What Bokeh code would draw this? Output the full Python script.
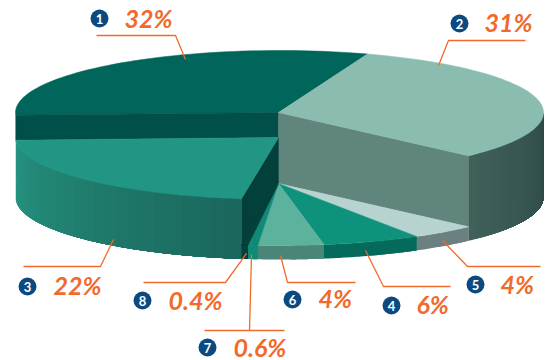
import numpy as np
from bokeh.core.properties import value
from bokeh.embed import file_html
from bokeh.models import ColumnDataSource
from bokeh.plotting import figure
from bokeh.resources import INLINE

# Shares per slice, in clockwise order starting from the top-left slice
slice_ids = [1, 2, 5, 4, 6, 7, 8, 3]
shares = [32, 31, 4, 6, 4, 0.6, 0.4, 22]
share_labels = ["32%", "31%", "4%", "6%", "4%", "0.6%", "0.4%", "22%"]

# Per-slice styling
top_colors = ["#00665c", "#8abdb0", "#b6d3cf", "#0f927c", "#5cb29c", "#0f8a78", "#04403c", "#229684"]
wall_left = ["#004f49", "#40605a", "#6b8080", "#046a5c", "#4a8678", "#0f8a78", "#04403c", "#25937f"]
wall_right = ["#004f49", "#2e4a47", "#6b8080", "#046a5c", "#4a8678", "#0f8a78", "#04403c", "#1b675d"]
surface_y = [112, 112, 183, 183, 183, 183, 183, 137]

# Label layout: id -> badge x, badge y, text x, text centre y, leader points
label_layout = {
    1: (99, 18, 124, 17, [(96, 35), (175, 35), (185, 59)]),
    2: (459, 23, 484, 21, [(525, 40), (448, 40), (438, 65)]),
    3: (27, 286, 53, 284, [(23, 266), (100, 266), (113, 239)]),
    4: (391, 305, 416, 303, [(365, 250), (383, 286), (450, 286)]),
    5: (475, 284, 500, 283, [(442, 240), (467, 266), (540, 266)]),
    6: (292, 299, 318, 297, [(280, 255), (287, 282), (355, 282)]),
    7: (207, 347, 233, 346, [(251, 254), (249, 330)]),
    8: (142, 300, 168, 299, [(143, 282), (225, 282), (246, 253)]),
}
extra_leaders = [[(204, 330), (284, 330)]]

# Projection of the pie
CX, RX, RY = 279, 264, 62
BASE_Y = 197
START_DEG = 182.5
REAR_FORESHORTENING = 3.5
ORANGE = "#f26a2b"
NAVY = "#0b4a80"


def rim(deg, cy):
    deg = np.asarray(deg, dtype=float)
    t = np.radians(deg + REAR_FORESHORTENING * np.maximum(0, np.sin(np.radians(deg))))
    return CX + RX * np.cos(t), cy - RY * np.sin(t)


def mix(a, b, f):
    ca = [int(a[i:i + 2], 16) for i in (1, 3, 5)]
    cb = [int(b[i:i + 2], 16) for i in (1, 3, 5)]
    return "#%02x%02x%02x" % tuple(round(x + (y - x) * f) for x, y in zip(ca, cb))


p = figure(width=547, height=360, x_range=(0, 547), y_range=(360, 0),
           toolbar_location=None, output_backend="svg", min_border=0)
p.axis.visible = False
p.grid.visible = False
p.outline_line_color = None
p.background_fill_color = "white"


def poly(xs, ys, color, stroke=True):
    p.patch(list(xs), list(ys), fill_color=color,
            line_color=color if stroke else None, line_width=0.5)


def wedge_top(a0, a1, cy, color):
    angles = np.linspace(a0, a1, 60)
    xs, ys = rim(angles, cy)
    poly(np.r_[CX - 1, xs], np.r_[cy, ys], color)


def outer_wall(a0, a1, top, c0, c1, strips=24):
    # Curved side of a slice; strips run left to right, each covering the
    # remainder of the wall, so no seams appear between neighbouring shades
    lo, hi = max(min(a0, a1), -180), min(max(a0, a1), 0)
    edges = np.linspace(lo, hi, strips + 1)
    for i in range(strips):
        seg = np.linspace(edges[i], hi, 40)
        xt, yt = rim(seg, top)
        xb, yb = rim(seg[::-1], BASE_Y)
        poly(np.r_[xt, xb], np.r_[yt, yb], mix(c0, c1, i / max(strips - 1, 1)), stroke=False)


def cut_face(deg, top, bottom, near_bottom, color):
    xt, yt = rim(deg, top)
    xb, yb = rim(deg, bottom)
    poly([CX - 1, xt, xb, CX - 1], [top, yt, yb, near_bottom], color)


# Angular extent of every slice, running clockwise
spans = np.array(shares) / sum(shares) * 360
ends = START_DEG - np.cumsum(spans)
starts = np.r_[START_DEG, ends[:-1]]
index = {sid: i for i, sid in enumerate(slice_ids)}

# Back slices: their top faces and the walls exposed by the lowered slices
i1, i2, i3 = index[1], index[2], index[3]
wedge_top(starts[i1], ends[i1], surface_y[i1], top_colors[i1])
cut_face(starts[i1], surface_y[i1], surface_y[i3], surface_y[i3], "#004f49")
cut_face(ends[i2], surface_y[i2], 183, 183, "#5f857d")
outer_wall(ends[i2], starts[i2], surface_y[i2], wall_left[i2], wall_right[i2])
wedge_top(starts[i2], ends[i2], surface_y[i2], top_colors[i2])

# Left slice with its dark cut face and shaded side
cut_face(starts[i3], surface_y[i3], BASE_Y, 183, "#033f3b")
outer_wall(starts[i3], ends[i3], surface_y[i3], wall_left[i3], wall_right[i3])
wedge_top(starts[i3], ends[i3], surface_y[i3], top_colors[i3])

# Lowered front slices
for sid in (5, 4, 6, 7, 8):
    i = index[sid]
    outer_wall(ends[i], starts[i], surface_y[i], wall_left[i], wall_right[i], strips=2)
    wedge_top(starts[i], ends[i], surface_y[i], top_colors[i])

# Leader lines, badges and share labels
for sid in slice_ids:
    leader = label_layout[sid][4]
    p.line([q[0] for q in leader], [q[1] for q in leader], line_color=ORANGE, line_width=1.3)
for leader in extra_leaders:
    p.line([q[0] for q in leader], [q[1] for q in leader], line_color=ORANGE, line_width=1.3)

badges = ColumnDataSource(dict(
    x=[label_layout[s][0] for s in slice_ids],
    y=[label_layout[s][1] for s in slice_ids],
    tx=[label_layout[s][2] for s in slice_ids],
    ty=[label_layout[s][3] for s in slice_ids],
    num=[str(s) for s in slice_ids],
    label=share_labels,
))
p.scatter("x", "y", source=badges, size=18, fill_color=NAVY, line_color=None)
p.text("x", "y", text="num", source=badges, text_color="white", text_font=value("Lato"),
       text_font_style="bold", text_font_size="13px", text_align="center", text_baseline="middle")
p.text("tx", "ty", text="label", source=badges, text_color=ORANGE, text_font=value("Lato"),
       text_font_style="bold italic", text_font_size="25px", text_align="left", text_baseline="middle")

open("out.html", "w").write(file_html(p, INLINE))
